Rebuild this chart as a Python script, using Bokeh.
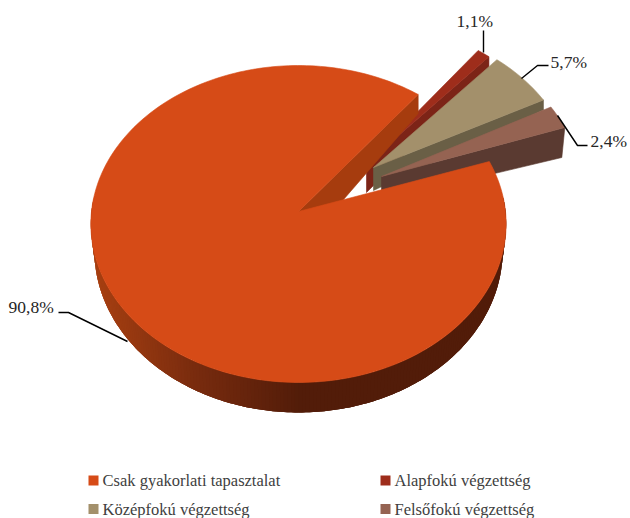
import math
from bokeh.plotting import figure
from bokeh.embed import file_html
from bokeh.resources import INLINE
from bokeh.core.properties import value

categories = ["Csak gyakorlati tapasztalat", "Alapfokú végzettség", "Középfokú végzettség", "Felsőfokú végzettség"]
shares = [90.8, 1.1, 5.7, 2.4]
top_colors = ["#D64B17", "#9E2D1B", "#A3906B", "#956352"]
wall_colors = ["#A63C0E", "#7C2417", "#6A5F46", "#5A3A31"]

# layout of the projected pie (styling, not data)
CX, CY, AX, BY, K = 298.0, 211.0, 207.0, 157.5, 0.0788
CY2, AX2, BY2 = 237.2, 203.5, 161.0
START_DEG = 19.0
explode_rim = [(0, 0), (60, -44), (68, -41), (75.5, -34)]
explode_apex = [(0, 0), (68, -48), (75, -44), (83, -35)]
wall_apex = [40, 29, 23, 24]
wall_rim = [19, 13, 10, 30]


def rim(deg):
    t = math.radians(deg)
    w = 1 + K * math.sin(t)
    return CX + AX * math.cos(t) / w, CY - BY * math.sin(t) / w


def rim_low(deg):
    t = math.radians(deg)
    w = 1 + K * math.sin(t)
    return CX + AX2 * math.cos(t) / w, CY2 - BY2 * math.sin(t) / w


def arc(a0, a1, n, fn=rim):
    return [fn(a0 + (a1 - a0) * i / n) for i in range(n + 1)]


def lerp_hex(c0, c1, f):
    a = [int(c0[i:i + 2], 16) for i in (1, 3, 5)]
    b = [int(c1[i:i + 2], 16) for i in (1, 3, 5)]
    return "#%02x%02x%02x" % tuple(round(x + (y - x) * f) for x, y in zip(a, b))


p = figure(width=630, height=518, x_range=(0, 630), y_range=(518, 0),
           output_backend="svg", toolbar_location=None, min_border=0)
p.axis.visible = False
p.grid.visible = False
p.outline_line_color = None
p.background_fill_color = "white"

# angular extents from the values (clockwise, from the start angle)
bounds = [START_DEG]
for s in shares:
    bounds.append(bounds[-1] - s / sum(shares) * 360)
a_main0, a_main1 = bounds[0], bounds[1]
small = [(i, a_main1 + 360 - sum(shares[1:i]) / sum(shares) * 360,
          a_main1 + 360 - sum(shares[1:i + 1]) / sum(shares) * 360) for i in (1, 2, 3)]


def poly(pts, fill, lw=0.6):
    p.patch([q[0] for q in pts], [q[1] for q in pts], fill_color=fill,
            line_color=fill if lw else None, line_width=lw or 1)


# exploded slices
for i, a0, a1 in small:
    rx, ry = explode_rim[i]
    ax, ay = explode_apex[i]
    apex = (CX + ax, CY + ay)
    r1 = rim(a1)
    r1 = (r1[0] + rx, r1[1] + ry)
    slant = -3 if i == 3 else 0
    poly([apex, r1, (r1[0] + slant, r1[1] + wall_rim[i]), (apex[0], apex[1] + wall_apex[i])], wall_colors[i])
    top = [(x + rx, y + ry) for x, y in arc(a0, a1, 12)]
    poly([apex] + top, top_colors[i])

# main slice: cut wall at the end edge
r_end = rim(a_main1 + 360)
poly([(CX, CY), r_end, (r_end[0], r_end[1] + wall_rim[0]), (CX, CY + wall_apex[0])], wall_colors[0])

# main slice: outer wall, shaded along the rim; each quad overlaps the next
n = 200
a_left, a_right = -185.0, 5.0
outer_top = arc(a_left, a_right, n)
outer_bottom = arc(a_left, a_right, n, rim_low)
for j in range(n):
    k = min(j + 3, n)
    xm = (outer_top[j][0] + outer_top[j + 1][0]) / 2
    if xm < 200:
        c = lerp_hex("#A63F11", "#762A0E", max(0, (xm - 96) / 104))
    elif xm < 300:
        c = lerp_hex("#762A0E", "#521C09", (xm - 200) / 100)
    else:
        c = "#521C09"
    poly(outer_top[j:k + 1] + outer_bottom[j:k + 1][::-1], c, 0)

# main slice: top face
poly([(CX, CY)] + arc(a_main0, a_main1, 240), top_colors[0])

# leader lines
leaders = [([58, 68, 127], [312, 312, 341]),
           ([483, 483], [30, 52]),
           ([521, 537, 548], [78, 65, 65]),
           ([557, 577, 587], [115, 145, 145])]
for xs, ys in leaders:
    p.line(xs, ys, line_color="#000000", line_width=1.4)

# data labels
lab = [f"{s:.1f}%".replace(".", ",") for s in shares]
lab_x = [8, 456, 550, 590]
lab_y = [306, 20, 61, 140]
p.text(lab_x, lab_y, text=lab, text_font=value("Liberation Serif"), text_font_size="17.5px",
       text_color="#262626", text_align="left", text_baseline="middle")

# legend
leg_x = [88, 380, 88, 380]
leg_y = [480, 480, 508.5, 508.5]
p.rect([x + 5 for x in leg_x], leg_y, width=10, height=10, fill_color=top_colors,
       line_color=None)
p.text([x + 14 for x in leg_x], leg_y, text=categories, text_font=value("Liberation Serif"),
       text_font_size="16.5px", text_color="#404040", text_align="left", text_baseline="middle")

open("out.html", "w").write(file_html(p, INLINE))
